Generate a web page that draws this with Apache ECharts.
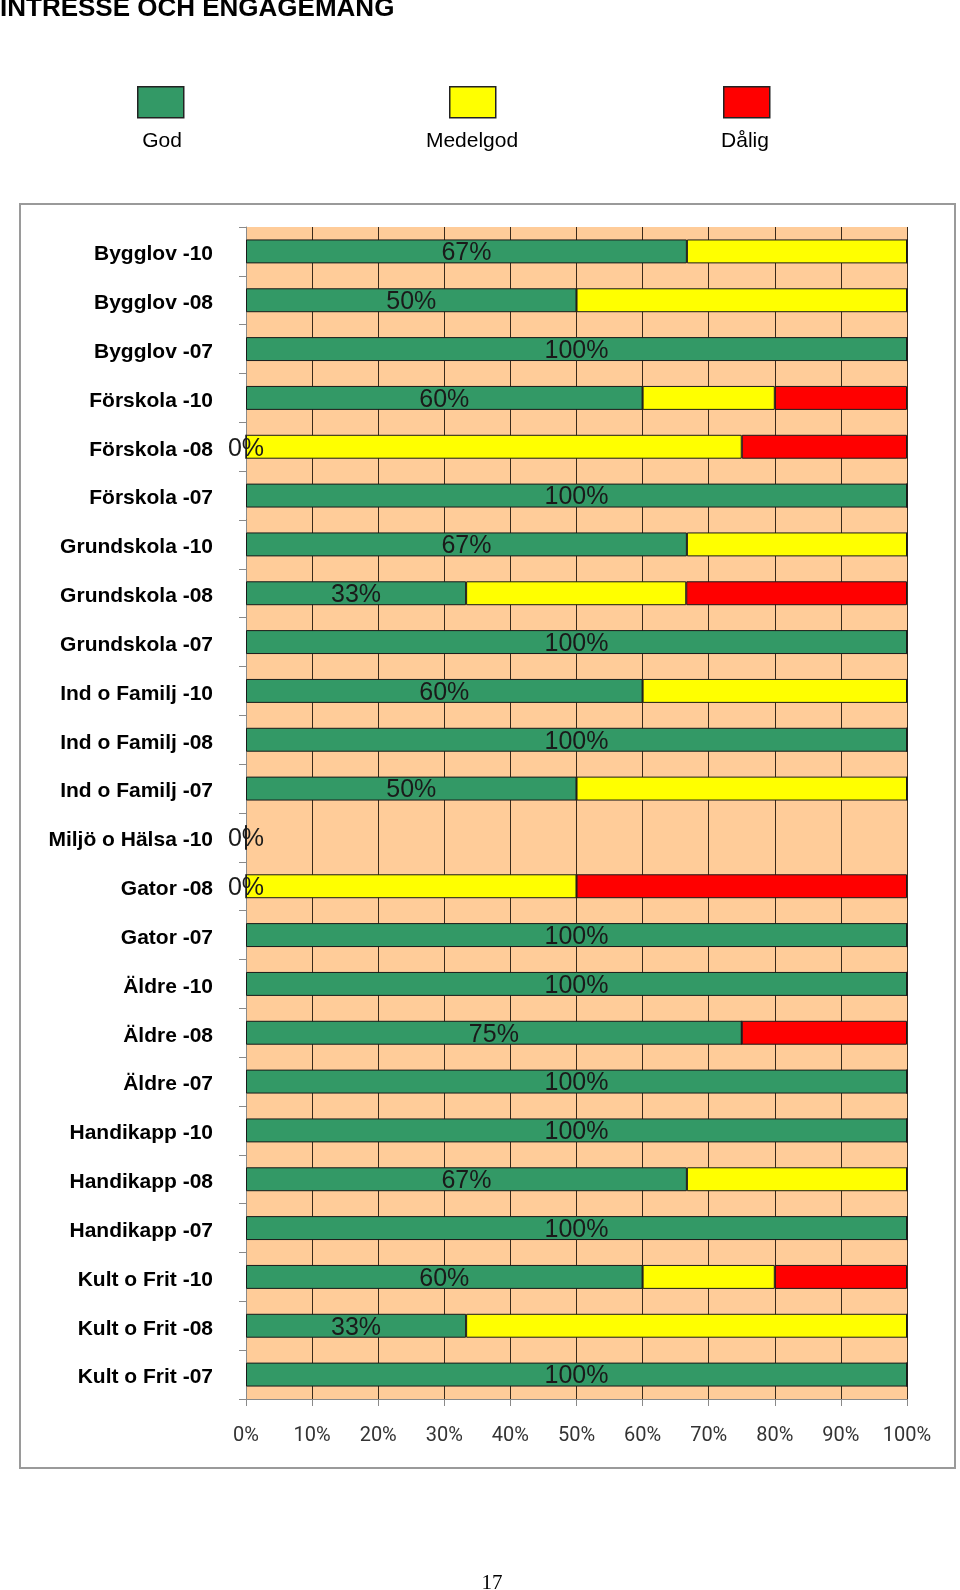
<!DOCTYPE html>
<html>
<head>
<meta charset="utf-8">
<script src="https://cdn.jsdelivr.net/npm/echarts@6/dist/echarts.min.js"></script>
<style>
html,body{margin:0;padding:0;background:#fff;}
#chart{width:960px;height:1590px;}
</style>
</head>
<body>
<div id="chart"></div>
<script>
var categories = ["Bygglov -10","Bygglov -08","Bygglov -07","Förskola -10","Förskola -08","Förskola -07",
  "Grundskola -10","Grundskola -08","Grundskola -07","Ind o Familj -10","Ind o Familj -08","Ind o Familj -07",
  "Miljö o Hälsa -10","Gator -08","Gator -07","Äldre -10","Äldre -08","Äldre -07",
  "Handikapp -10","Handikapp -08","Handikapp -07","Kult o Frit -10","Kult o Frit -08","Kult o Frit -07"];
var god      = [66.7, 50, 100, 60, 0, 100, 66.7, 33.3, 100, 60, 100, 50, 0, 0, 100, 100, 75, 100, 100, 66.7, 100, 60, 33.3, 100];
var medelgod = [33.3, 50, 0, 20, 75, 0, 33.3, 33.3, 0, 40, 0, 50, 0, 50, 0, 0, 0, 0, 0, 33.3, 0, 20, 66.7, 0];
var dalig    = [0, 0, 0, 20, 25, 0, 0, 33.4, 0, 0, 0, 0, 0, 50, 0, 0, 25, 0, 0, 0, 0, 20, 0, 0];
var seriesNames = ["God", "Medelgod", "Dålig"];
var xTicks = [0, 100, 10];

var chart = echarts.init(document.getElementById('chart'), null, {renderer: 'canvas'});
var barBorder = {borderColor: '#1a1a1a', borderWidth: 1};
function legendFor(name, left) {
  return {
    data: [name], left: left, top: 86, padding: 0,
    itemWidth: 46, itemHeight: 31, icon: 'rect', itemGap: 0,
    itemStyle: {borderColor: '#222', borderWidth: 1.5},
    formatter: function () { return ''; },
    selectedMode: false
  };
}
var legendFont = '21px "Liberation Sans", Arial, sans-serif';
var option = {
  animation: false,
  backgroundColor: '#fff',
  title: {
    text: 'INTRESSE OCH ENGAGEMANG', left: 0, top: -4, padding: 0,
    textStyle: {fontSize: 26, fontWeight: 'bold', fontFamily: '"Liberation Sans", Arial, sans-serif', color: '#000'}
  },
  legend: [legendFor(seriesNames[0], 137), legendFor(seriesNames[1], 449), legendFor(seriesNames[2], 723)],
  graphic: [
    {type: 'rect', shape: {x: 20, y: 204, width: 935, height: 1264}, style: {fill: 'none', stroke: '#9a9a9a', lineWidth: 2}, z: -10},
    {type: 'text', style: {text: seriesNames[0], x: 162, y: 141, align: 'center', verticalAlign: 'middle', font: legendFont, fill: '#000'}},
    {type: 'text', style: {text: seriesNames[1], x: 472, y: 141, align: 'center', verticalAlign: 'middle', font: legendFont, fill: '#000'}},
    {type: 'text', style: {text: seriesNames[2], x: 745, y: 141, align: 'center', verticalAlign: 'middle', font: legendFont, fill: '#000'}},
    {type: 'text', style: {text: '17', x: 492, y: 1583, align: 'center', verticalAlign: 'middle', font: '21px "Liberation Serif", "Times New Roman", serif', fill: '#000'}}
  ],
  grid: {left: 246, top: 227, width: 661, height: 1172, show: true, backgroundColor: '#FFCC99', borderWidth: 0, containLabel: false},
  xAxis: {
    type: 'value', min: xTicks[0], max: xTicks[1], interval: xTicks[2],
    axisLine: {show: true, lineStyle: {color: '#8a8a8a', width: 1}},
    axisTick: {show: true, length: 7, lineStyle: {color: '#8a8a8a'}},
    axisLabel: {formatter: '{value}%', margin: 27, fontSize: 20, fontFamily: 'Roboto, sans-serif', color: '#333'},
    splitLine: {show: true, lineStyle: {color: '#3a2a1a', width: 1}}
  },
  yAxis: {
    type: 'category', data: categories, inverse: true,
    axisLine: {show: true, lineStyle: {color: '#8a8a8a', width: 1}},
    axisTick: {show: true, length: 7, lineStyle: {color: '#8a8a8a'}},
    axisLabel: {margin: 33, color: '#000',
      formatter: function (v) { return '{c|' + v + '}'; },
      rich: {c: {fontSize: 21, fontWeight: 'bold', fontFamily: '"Liberation Sans", Arial, sans-serif', color: '#000', padding: [6, 0, 0, 0]}}},
    splitLine: {show: false}
  },
  series: [
    {name: seriesNames[0], type: 'bar', stack: 'total', data: god, barCategoryGap: '51%',
      itemStyle: Object.assign({color: '#339966'}, barBorder),
      label: {show: true, position: 'inside', offset: [0, 2], fontSize: 25, fontFamily: '"Liberation Sans", Arial, sans-serif', color: '#1a1a1a',
        formatter: function (p) { return Math.round(p.value) + '%'; }}},
    {name: seriesNames[1], type: 'bar', stack: 'total', data: medelgod, barCategoryGap: '51%',
      itemStyle: Object.assign({color: '#FFFF00'}, barBorder)},
    {name: seriesNames[2], type: 'bar', stack: 'total', data: dalig, barCategoryGap: '51%',
      itemStyle: Object.assign({color: '#FF0000'}, barBorder)}
  ]
};
chart.setOption(option);
</script>
</body>
</html>
